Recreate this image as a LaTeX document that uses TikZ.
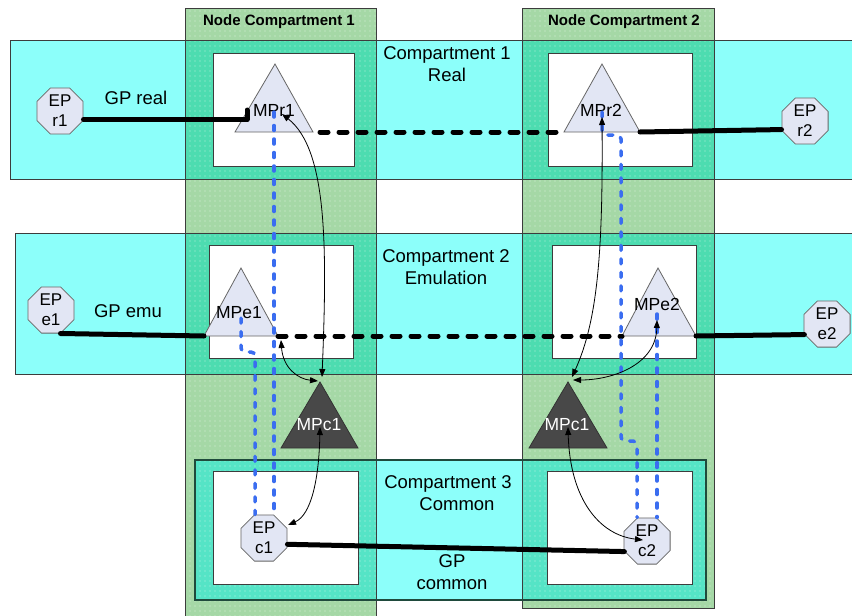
\documentclass[tikz,border=0pt]{standalone}
\usepackage{fontspec}
\setmainfont{Liberation Sans}
\usetikzlibrary{shapes.geometric,arrows.meta,patterns.meta}
\definecolor{cyanc}{HTML}{8CFFFA}
\definecolor{greenc}{HTML}{A5D8A6}
\definecolor{tealc}{HTML}{4DDCB0}
\definecolor{tealc2}{HTML}{55E4C6}
\definecolor{trifill}{HTML}{E2E6F4}
\definecolor{darktri}{HTML}{484848}
\definecolor{bluel}{HTML}{3A6DF0}
\definecolor{bord}{HTML}{3C3C3C}
\definecolor{cbord}{HTML}{1F4A3C}
\tikzset{
  bordline/.style={draw=bord, line width=0.9pt},
  whitebox/.style={fill=white, draw=bord, line width=0.9pt},
  dotty/.style={pattern={Dots[distance=5pt,radius=0.6pt]}, pattern color=white, fill opacity=0.6},
  lighttri/.style={fill=trifill, draw=gray!80!black, line width=0.8pt},
  darktriangle/.style={fill=darktri, draw=black!80, line width=0.8pt},
  ep/.style={regular polygon, regular polygon sides=8, minimum size=50pt, inner sep=0pt,
     fill=trifill, draw=gray!80!black, line width=0.8pt, align=center,
     font=\fontsize{17}{20}\selectfont},
  lbl/.style={font=\fontsize{18.5}{22}\selectfont, align=center, inner sep=0pt},
  mplbl/.style={font=\fontsize{17.5}{20}\selectfont, inner sep=0pt},
  nctitle/.style={font=\bfseries\fontsize{15}{18}\selectfont, inner sep=0pt},
  gp/.style={line width=5pt, line cap=round, line join=round},
  gpdash/.style={line width=5pt, line cap=round, dash pattern=on 8pt off 11pt},
  bdash/.style={draw=bluel, line width=3.5pt, line cap=round, dash pattern=on 5pt off 8.5pt, rounded corners=4pt},
  link/.style={line width=0.8pt, {Triangle[length=8pt,width=6pt]}-{Triangle[length=8pt,width=6pt]}}
}
\begin{document}
\begin{tikzpicture}[x=1pt,y=-1pt]
\useasboundingbox (0,0) rectangle (852,616);
\clip (0,0) rectangle (852,616);
% compartments (cyan)
\fill[cyanc] (10,40) rectangle (860,179);
\fill[cyanc] (15,233) rectangle (860,374);
\fill[cyanc] (195,460) rectangle (706,600);
% node compartments (green)
\fill[greenc] (185,8) rectangle (376,620);
\fill[greenc] (522,8) rectangle (714,608);
% overlaps
\fill[tealc] (185,40) rectangle (376,179);
\fill[tealc] (522,40) rectangle (714,179);
\fill[tealc] (185,233) rectangle (376,374);
\fill[tealc] (522,233) rectangle (714,374);
\fill[tealc2] (195,460) rectangle (376,600);
\fill[tealc2] (522,460) rectangle (706,600);
% dot texture
\fill[dotty] (185,8) rectangle (376,620);
\fill[dotty] (522,8) rectangle (714,608);
% borders
\draw[bordline] (10,40) rectangle (860,179);
\draw[bordline] (15,233) rectangle (860,374);
\draw[bordline] (185,8) rectangle (376,620);
\draw[bordline] (522,8) rectangle (714,608);
\draw[draw=cbord, line width=1.4pt] (195,460) rectangle (706,600);
% white inner boxes
\draw[whitebox] (213,53) rectangle (354,166);
\draw[whitebox] (548,53) rectangle (692,166);
\draw[whitebox] (209,245) rectangle (353,358);
\draw[whitebox] (552,245) rectangle (696,358);
\draw[whitebox] (213,471) rectangle (358,584);
\draw[whitebox] (547,471) rectangle (692,584);
% titles
\node[nctitle] (nc1) at (279,22) {Node Compartment 1};
\node[nctitle] (nc2) at (624,22) {Node Compartment 2};
\node[lbl] (c1) at (447,64) {Compartment 1\\Real};
\node[lbl] (c2) at (446,267) {Compartment 2\\Emulation};
\node[lbl] (c3) at (448,493) {Compartment 3\\\hspace*{18pt}Common};
\node[lbl] (gpr) at (136,98) {GP real};
\node[lbl] (gpe) at (128,311) {GP emu};
\node[lbl] (gpc) at (452,572) {GP\\common};
% triangles
\coordinate (r1t) at (275,64); \coordinate (r1l) at (235,132); \coordinate (r1r) at (313,132);
\coordinate (r2t) at (602,64); \coordinate (r2l) at (564,132); \coordinate (r2r) at (640,132);
\coordinate (e1t) at (241,268); \coordinate (e1l) at (204,336); \coordinate (e1r) at (278,336);
\coordinate (e2t) at (658,268); \coordinate (e2l) at (622,336); \coordinate (e2r) at (696,336);
\coordinate (c1t) at (320,382); \coordinate (c1l) at (281,448); \coordinate (c1r) at (358,448);
\coordinate (c2t) at (568,382); \coordinate (c2l) at (529,448); \coordinate (c2r) at (607,448);
\draw[lighttri] (r1t) -- (r1l) -- (r1r) -- cycle;
\draw[lighttri] (r2t) -- (r2l) -- (r2r) -- cycle;
\draw[lighttri] (e1t) -- (e1l) -- (e1r) -- cycle;
\draw[lighttri] (e2t) -- (e2l) -- (e2r) -- cycle;
\draw[darktriangle] (c1t) -- (c1l) -- (c1r) -- cycle;
\draw[darktriangle] (c2t) -- (c2l) -- (c2r) -- cycle;
\node[mplbl] (MPr1) at (274,110) {MPr1};
\node[mplbl] (MPr2) at (601,110) {MPr2};
\node[mplbl] (MPe1) at (239,313) {MPe1};
\node[mplbl] (MPe2) at (657,304) {MPe2};
\node[mplbl, text=white] (MPc1a) at (319,425) {MPc1};
\node[mplbl, text=white] (MPc1b) at (567,425) {MPc1};
% end points
\node[ep] (EPr1) at (60,111) {EP\\r1};
\node[ep] (EPr2) at (805,121) {EP\\r2};
\node[ep] (EPe1) at (51,310) {EP\\e1};
\node[ep] (EPe2) at (827,324) {EP\\e2};
\node[ep] (EPc1) at (264,538) {EP\\c1};
\node[ep] (EPc2) at (647,541) {EP\\c2};
% GP lines
\coordinate (r1tick) at (247,110);
\draw[gp] (EPr1.-20) -| (r1tick);
\draw[gp] (r2r) -- (EPr2.200);
\draw[gp] (EPe1.-68) -- (e1l);
\draw[gp] (e2r) -- (EPe2.205);
\draw[gp] (EPc1.-15) -- (EPc2.205);
\draw[gpdash] ([xshift=7pt]r1r) -- (r2l);
\draw[gpdash] (e1r) -- (e2l);
% blue dashed lines
\coordinate (b2a) at (241,318); \coordinate (b2b) at (241,352); \coordinate (b2c) at (255,352);
\coordinate (b3a) at (602,112); \coordinate (b3b) at (602,135); \coordinate (b3c) at (621,135);
\coordinate (b3d) at (621,441); \coordinate (b3e) at (637,441);
\draw[bdash] ([yshift=-2pt]MPr1.center) -- (MPr1.center |- EPc1.north);
\draw[bdash] (b2a) -- (b2b) -- (b2c) -- (b2c |- EPc1.north);
\draw[bdash] (b3a) -- (b3b) -- (b3c) -- (b3d) -- (b3e) -- (b3e |- EPc2.north);
\draw[bdash] ([yshift=-10pt]MPe2.center) -- (MPe2.center |- EPc2.north);
% thin double arrows
\coordinate (ar1) at (282,114); \coordinate (ac1) at (322,377);
\draw[link] (ac1) .. controls (327,250) and (328,150) .. (ar1);
\coordinate (ae1) at (281,340); \coordinate (ac1b) at (318,381);
\draw[link] (ae1) .. controls (283,368) and (298,379) .. (ac1b);
\coordinate (ar2) at (602,117); \coordinate (ac2) at (572,377);
\draw[link] (ar2) .. controls (603,250) and (598,320) .. (ac2);
\coordinate (ae2) at (657,320); \coordinate (ac2b) at (573,380);
\draw[link] (ae2) .. controls (656,365) and (612,380) .. (ac2b);
\coordinate (amc1) at (320,427); \coordinate (aep1) at (288,525);
\draw[link] (amc1) .. controls (319,480) and (311,515) .. (aep1);
\coordinate (amc2) at (568,427); \coordinate (aep2) at (643,540);
\draw[link] (amc2) .. controls (570,500) and (600,535) .. (aep2);
\end{tikzpicture}
\end{document}
